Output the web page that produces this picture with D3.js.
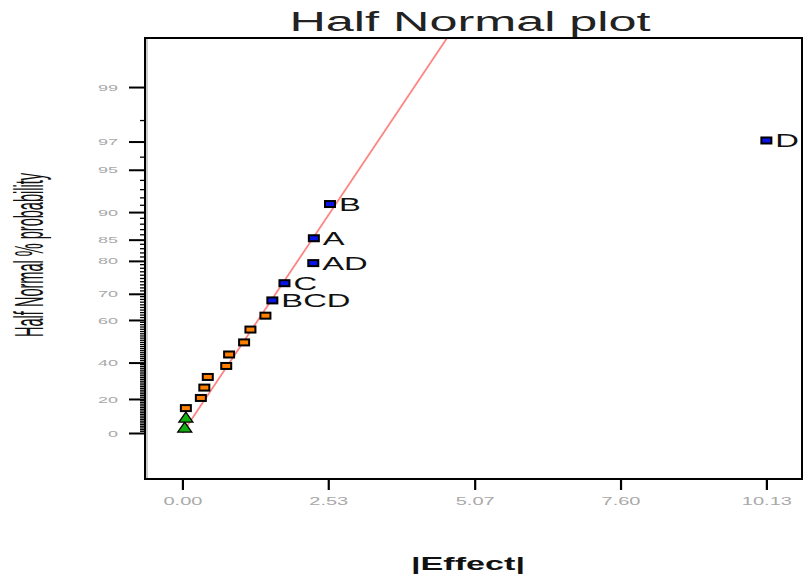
<!DOCTYPE html>
<html lang="en">
<head>
    <meta charset="UTF-8">
    <title>Half Normal plot</title>
    <script src="https://cdn.jsdelivr.net/npm/d3@7/dist/d3.min.js"></script>
    <style>
        body{margin:0;background:#fff;}
        svg text{font-family:"Liberation Sans",Arial,sans-serif;}
    </style>
</head>
<body>
    <svg width="809" height="581"></svg>
</body>
</html>
<script>

    // data, sorted from smallest |effect| to largest
    var terms   = ['', '', '', '', '', '', '', '', '', '', '', 'BCD', 'C', 'AD', 'A', 'B', 'D'];
    var effects = [0.04, 0.06, 0.06, 0.32, 0.38, 0.44, 0.76, 0.81, 1.07, 1.18, 1.44, 1.56, 1.77, 2.27, 2.28, 2.56, 10.13];
    var kinds   = ['error', 'error', 'neg', 'neg', 'neg', 'neg', 'neg', 'neg', 'neg', 'neg', 'neg', 'pos', 'pos', 'pos', 'pos', 'pos', 'pos'];

    var xTicks = [0, 2.53, 5.07, 7.60, 10.13];
    var yTicks = [0, 20, 40, 60, 70, 80, 85, 90, 95, 97, 99];
    var lineSlope = 1.561;   // |effect| per unit of half normal quantile

    var colors = {pos: '#0a14e6', neg: '#ff8000', error: '#10b010'};

    // plot box (note: "top" is taken by window.top)
    var boxL = 145, boxR = 802, boxT = 38, boxB = 479;

    // inverse normal (Acklam)
    function probit(p){
        var a = [-3.969683028665376e+01, 2.209460984245205e+02, -2.759285104469687e+02, 1.383577518672690e+02, -3.066479806614716e+01, 2.506628277459239e+00];
        var b = [-5.447609879822406e+01, 1.615858368580409e+02, -1.556989798598866e+02, 6.680131188771972e+01, -1.328068155288572e+01];
        var c = [-7.784894002430293e-03, -3.223964580411365e-01, -2.400758277161838e+00, -2.549732539343734e+00, 4.374664141464968e+00, 2.938163982698783e+00];
        var d = [7.784695709041462e-03, 3.224671290700398e-01, 2.445134137142996e+00, 3.754408661907416e+00];
        var pl = 0.02425, q, r;
        if(p < pl){
            q = Math.sqrt(-2*Math.log(p));
            return (((((c[0]*q+c[1])*q+c[2])*q+c[3])*q+c[4])*q+c[5]) / ((((d[0]*q+d[1])*q+d[2])*q+d[3])*q+1);
        }
        if(p <= 1-pl){
            q = p-0.5; r = q*q;
            return (((((a[0]*r+a[1])*r+a[2])*r+a[3])*r+a[4])*r+a[5])*q / (((((b[0]*r+b[1])*r+b[2])*r+b[3])*r+b[4])*r+1);
        }
        q = Math.sqrt(-2*Math.log(1-p));
        return -(((((c[0]*q+c[1])*q+c[2])*q+c[3])*q+c[4])*q+c[5]) / ((((d[0]*q+d[1])*q+d[2])*q+d[3])*q+1);
    }
    // percent -> half normal quantile
    function hz(pct){ return probit(0.5 + pct/200); }

    var n = effects.length;
    var points = effects.map(function(v,i){
        return {term: terms[i], effect: v, kind: kinds[i], z: probit(0.5 + ((i+0.5)/n)/2)};
    });

    var x = d3.scaleLinear().domain([-0.649, 10.748]).range([boxL, boxR]);
    var y = d3.scaleLinear().domain([-0.3425, 2.941]).range([boxB, boxT]);

    var svg = d3.select('svg');

    svg.append('defs').append('clipPath').attr('id','plotclip')
        .append('rect')
        .attr('x',boxL).attr('y',boxT)
        .attr('width',boxR-boxL).attr('height',boxB-boxT);

    // title
    svg.append('text')
        .attr('x',470).attr('y',31)
        .attr('text-anchor','middle')
        .attr('font-size',27)
        .attr('fill','#222')
        .attr('textLength',361)
        .attr('lengthAdjust','spacingAndGlyphs')
        .text('Half Normal plot');

    // axis titles
    svg.append('text')
        .attr('x',468).attr('y',570)
        .attr('text-anchor','middle')
        .attr('font-size',19)
        .attr('font-weight','bold')
        .attr('fill','#111')
        .attr('textLength',114)
        .attr('lengthAdjust','spacingAndGlyphs')
        .text('|Effect|');

    svg.append('text')
        .attr('transform','translate(43,255) scale(2.5,1) rotate(-90)')
        .attr('text-anchor','middle')
        .attr('font-size',16)
        .attr('fill','#111')
        .attr('textLength',164)
        .attr('lengthAdjust','spacingAndGlyphs')
        .text('Half Normal % probability');

    // minor ticks on the probability axis, every percent
    var minor = d3.range(1,99).filter(function(p){ return yTicks.indexOf(p) < 0; });
    svg.append('g').selectAll('line')
        .data(minor)
        .enter().append('line')
        .attr('x1',boxL-5).attr('x2',boxL)
        .attr('y1',function(d){ return y(hz(d)); })
        .attr('y2',function(d){ return y(hz(d)); })
        .attr('stroke','#000')
        .attr('stroke-width',1.3);

    // y axis
    var yAxis = d3.axisLeft(y)
        .tickValues(yTicks.map(hz))
        .tickSize(16)
        .tickFormat(function(d,i){ return yTicks[i]; });
    var gy = svg.append('g')
        .attr('transform','translate('+boxL+',0)')
        .call(yAxis);
    gy.select('.domain').remove();
    gy.selectAll('line').attr('stroke','#000').attr('stroke-width',2);
    gy.selectAll('text')
        .attr('x',-13.5).attr('dy','0.34em')
        .attr('transform','scale(2,1)')
        .attr('font-size',9)
        .attr('font-family','"Liberation Sans",Arial,sans-serif')
        .attr('fill','#a8a8a8');

    // x axis
    var xAxis = d3.axisBottom(x)
        .tickValues(xTicks)
        .tickSize(11)
        .tickFormat(d3.format('.2f'));
    var gx = svg.append('g')
        .attr('transform','translate(0,'+boxB+')')
        .call(xAxis);
    gx.select('.domain').remove();
    gx.selectAll('line').attr('stroke','#000').attr('stroke-width',2.2);
    gx.selectAll('text')
        .attr('transform','scale(2,1)')
        .attr('y',26).attr('dy',0)
        .attr('font-size',10)
        .attr('font-family','"Liberation Sans",Arial,sans-serif')
        .attr('fill','#a8a8a8');

    // reference line
    var zTop = y.domain()[1];
    svg.append('path')
        .datum([0, zTop])
        .attr('clip-path','url(#plotclip)')
        .attr('d', d3.line()
            .x(function(z){ return x(lineSlope*z); })
            .y(function(z){ return y(z); }))
        .attr('fill','none')
        .attr('stroke','#ff8484')
        .attr('stroke-width',1.8);

    // points
    var plot = svg.append('g').attr('clip-path','url(#plotclip)');

    plot.selectAll('rect.pt')
        .data(points.filter(function(d){ return d.kind != 'error'; }))
        .enter().append('rect')
        .attr('class','pt')
        .attr('x',function(d){ return x(d.effect)-5; })
        .attr('y',function(d){ return y(d.z)-3; })
        .attr('width',10)
        .attr('height',6)
        .attr('fill',function(d){ return colors[d.kind]; })
        .attr('stroke','#000')
        .attr('stroke-width',2);

    plot.selectAll('path.pt')
        .data(points.filter(function(d){ return d.kind == 'error'; }))
        .enter().append('path')
        .attr('class','pt')
        .attr('transform',function(d){ return 'translate('+x(d.effect)+','+y(d.z)+')'; })
        .attr('d','M-7,4L0,-6L7,4Z')
        .attr('fill',colors.error)
        .attr('stroke','#000')
        .attr('stroke-width',1.3);

    // term labels
    plot.selectAll('text.lbl')
        .data(points.filter(function(d){ return d.term != ''; }))
        .enter().append('text')
        .attr('class','lbl')
        .attr('transform',function(d){ return 'translate('+(x(d.effect)+9)+','+(y(d.z)+6.5)+') scale(1.87,1)'; })
        .attr('font-size',17.5)
        .attr('fill','#111')
        .text(function(d){ return d.term; });

    // box
    svg.append('rect')
        .attr('x',boxL).attr('y',boxT)
        .attr('width',boxR-boxL).attr('height',boxB-boxT)
        .attr('fill','none')
        .attr('stroke','#000')
        .attr('stroke-width',2);
    svg.append('line')
        .attr('x1',boxL+2).attr('x2',boxL+2)
        .attr('y1',boxT+1).attr('y2',boxB-1)
        .attr('stroke','#bbb')
        .attr('stroke-width',1.5);

</script>
